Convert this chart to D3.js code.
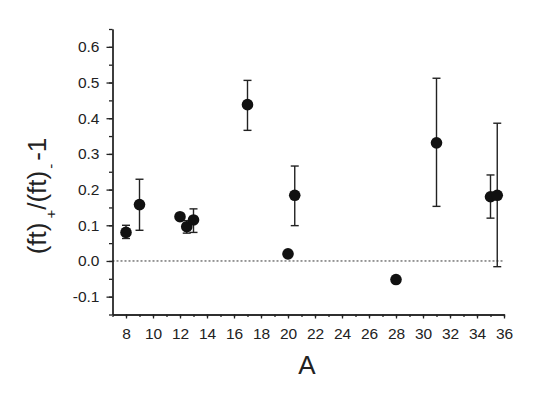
<!DOCTYPE html>
<html>
<head>
<meta charset="utf-8">
<script src="https://cdn.jsdelivr.net/npm/d3@7"></script>
<style>
  body { margin: 0; background: #fff; }
  #chart { width: 545px; height: 415px; }
  text { font-family: "Liberation Sans", Arial, Helvetica, sans-serif; fill: #222; }
  .axis path, .axis line { stroke: #222; stroke-width: 1.3; }
</style>
</head>
<body>
<div id="chart"></div>
<script>
"use strict";

// mass number A, ratio value, lower and upper error bounds (null = no bar)
const massA = [8, 9, 12, 12.5, 13, 17, 20, 20.5, 28, 31, 35, 35.5];
const ratio = [0.080, 0.158, 0.124, 0.096, 0.115, 0.438, 0.020, 0.184, -0.052, 0.331, 0.180, 0.184];
const errLow = [0.063, 0.086, null, 0.078, 0.080, 0.366, null, 0.099, null, 0.153, 0.120, -0.016];
const errHigh = [0.100, 0.229, null, 0.113, 0.146, 0.506, null, 0.266, null, 0.512, 0.241, 0.386];

const xTicks = [8, 10, 12, 14, 16, 18, 20, 22, 24, 26, 28, 30, 32, 34, 36];
const yTicks = [-0.1, 0.0, 0.1, 0.2, 0.3, 0.4, 0.5, 0.6];

function draw() {
  const w = 545;
  const h = 415;
  const left = 112.5;
  const right = 504;
  const top = 29;
  const bottom = 314.5;

  const data = massA.map((a, i) => ({
    a: a,
    v: ratio[i],
    lo: errLow[i],
    hi: errHigh[i],
  }));

  const x = d3.scaleLinear().domain([7, 36]).range([left, right]);
  const y = d3.scaleLinear().domain([-0.15, 0.65]).range([bottom, top]);

  const svg = d3
    .select("#chart")
    .append("svg")
    .attr("width", w)
    .attr("height", h);

  // dotted zero line
  svg
    .append("line")
    .attr("x1", left)
    .attr("x2", right)
    .attr("y1", y(0))
    .attr("y2", y(0))
    .attr("stroke", "#333")
    .attr("stroke-width", 1)
    .attr("stroke-dasharray", "2,2");

  // minor ticks first, then the major axes on top
  const xMinor = d3.range(7, 37, 1);
  svg
    .append("g")
    .attr("class", "axis")
    .attr("transform", `translate(0, ${bottom})`)
    .call(d3.axisBottom(x).tickValues(xMinor).tickSize(2.5).tickFormat("").tickSizeOuter(0));

  const yMinor = d3.range(-0.15, 0.651, 0.05);
  svg
    .append("g")
    .attr("class", "axis")
    .attr("transform", `translate(${left}, 0)`)
    .call(d3.axisLeft(y).tickValues(yMinor).tickSize(3.5).tickFormat("").tickSizeOuter(0));

  const xAxis = svg
    .append("g")
    .attr("class", "axis")
    .attr("transform", `translate(0, ${bottom})`)
    .call(
      d3.axisBottom(x)
        .tickValues(xTicks)
        .tickSize(4)
        .tickSizeOuter(0)
        .tickPadding(9)
        .tickFormat((d) => d)
    );
  xAxis.selectAll("text").attr("font-size", 15.5).attr("font-family", null);

  const yAxis = svg
    .append("g")
    .attr("class", "axis")
    .attr("transform", `translate(${left}, 0)`)
    .call(
      d3.axisLeft(y)
        .tickValues(yTicks)
        .tickSize(6)
        .tickSizeOuter(0)
        .tickPadding(7)
        .tickFormat((d) => d.toFixed(1))
    );
  yAxis.selectAll("text").attr("font-size", 15.5).attr("font-family", null);

  // error bars
  const bars = data.filter((d) => d.lo !== null);
  const capW = 4;
  const errG = svg.append("g").attr("stroke", "#222").attr("stroke-width", 1.4);
  errG
    .selectAll(".err")
    .data(bars)
    .enter()
    .append("line")
    .attr("x1", (d) => x(d.a))
    .attr("x2", (d) => x(d.a))
    .attr("y1", (d) => y(d.lo))
    .attr("y2", (d) => y(d.hi));
  errG
    .selectAll(".cap-hi")
    .data(bars)
    .enter()
    .append("line")
    .attr("x1", (d) => x(d.a) - capW)
    .attr("x2", (d) => x(d.a) + capW)
    .attr("y1", (d) => y(d.hi))
    .attr("y2", (d) => y(d.hi));
  errG
    .selectAll(".cap-lo")
    .data(bars)
    .enter()
    .append("line")
    .attr("x1", (d) => x(d.a) - capW)
    .attr("x2", (d) => x(d.a) + capW)
    .attr("y1", (d) => y(d.lo))
    .attr("y2", (d) => y(d.lo));

  // the dots
  svg
    .selectAll("circle")
    .data(data)
    .enter()
    .append("circle")
    .attr("cx", (d) => x(d.a))
    .attr("cy", (d) => y(d.v))
    .attr("r", 5.8)
    .attr("fill", "#111");

  // x label
  svg
    .append("text")
    .text("A")
    .attr("x", 307)
    .attr("y", 374)
    .attr("text-anchor", "middle")
    .attr("font-size", 26);

  // y label with subscripts
  const yl = svg
    .append("text")
    .attr("transform", "translate(46, 196) rotate(-90)")
    .attr("text-anchor", "middle")
    .attr("font-size", 26);
  yl.append("tspan").text("(ft)");
  yl.append("tspan").attr("dx", 4).attr("dy", 10).attr("font-size", 15).text("+");
  yl.append("tspan").attr("dy", -10).text("/(ft)");
  yl.append("tspan").attr("dx", 2).attr("dy", 10).attr("font-size", 15).text("-");
  yl.append("tspan").attr("dx", 3).attr("dy", -10).text("-1");
}

draw();
</script>
</body>
</html>
